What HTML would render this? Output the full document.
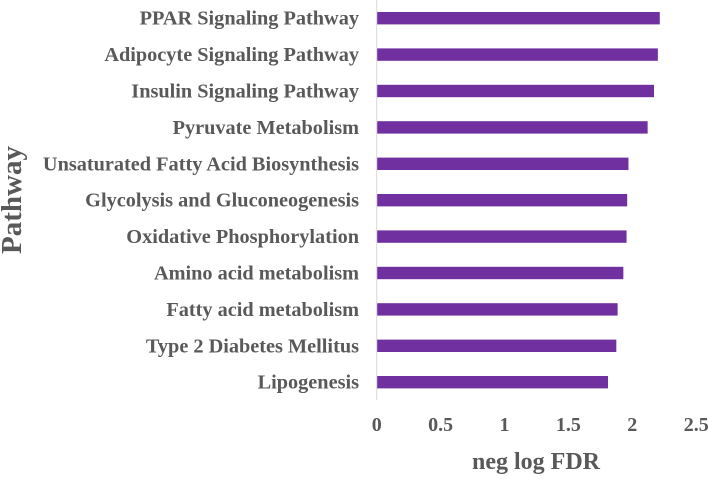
<!DOCTYPE html>
<html><head><meta charset="utf-8"><style>
body{margin:0;background:#fff;}
svg text{font-family:"Liberation Serif",serif;font-weight:bold;fill:#595959;}
</style></head><body>
<svg id="chart" width="708" height="474" xmlns="http://www.w3.org/2000/svg">
<g id="plot"></g>
<text transform="translate(21,200) rotate(-90)" text-anchor="middle" font-size="29">Pathway</text>
<text x="536" y="469" text-anchor="middle" font-size="24">neg log FDR</text>
</svg>
<script>
const categories=["PPAR Signaling Pathway","Adipocyte Signaling Pathway","Insulin Signaling Pathway","Pyruvate Metabolism","Unsaturated Fatty Acid Biosynthesis","Glycolysis and Gluconeogenesis","Oxidative Phosphorylation","Amino acid metabolism","Fatty acid metabolism","Type 2 Diabetes Mellitus","Lipogenesis"];
const values=[2.215,2.2,2.17,2.12,1.97,1.96,1.955,1.93,1.885,1.875,1.81];
const ticks=[0,0.5,1,1.5,2,2.5];
const tickLabels=["0","0.5","1","1.5","2","2.5"];
const NS="http://www.w3.org/2000/svg";
const x0=376.7,unit=127.8,step=36.4;
const xs=v=>x0+v*unit;
const yc=i=>18.2+i*step;
const g=document.getElementById('plot');
function mk(t,a){const e=document.createElementNS(NS,t);for(const k in a)e.setAttribute(k,a[k]);g.appendChild(e);return e;}
const ax=mk('line',{x1:x0,x2:x0,y1:0,y2:400,stroke:'#d9d9d9','stroke-width':1});


categories.forEach((c,i)=>{
 const r=mk('rect',{x:xs(0)+0.5,y:yc(i)-6.2,width:xs(values[i])-xs(0)-0.5,height:12.4,fill:'#7030a0'});
 
 
 const t=mk('text',{x:359,y:yc(i)+6.5,'text-anchor':'end','font-size':'20.3'});
 t.textContent=c;
 
 
});
ticks.forEach((v,i)=>{
 const t=mk('text',{x:xs(v),y:431,'text-anchor':'middle','font-size':'20'});
 t.textContent=tickLabels[i];
 
 
});
</script>
</body></html>
